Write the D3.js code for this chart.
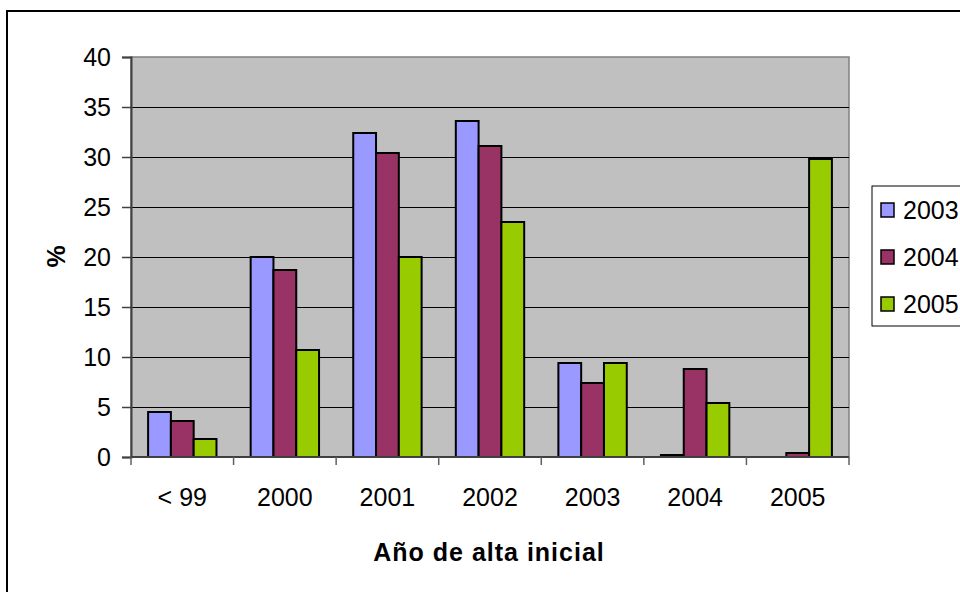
<!DOCTYPE html>
<html>
    <head>
        <meta charset="utf-8">
        <title>Año de alta inicial</title>
        <style>
body {
    margin: 0;
    background-color: white;
    font-family: 'Liberation Sans', Arial, sans-serif;
}

.tick-label {
    font-size: 25px;
    fill: #000;
}

.axis-title {
    font-size: 25px;
    font-weight: bold;
    letter-spacing: 1px;
    fill: #000;
}

.legend-label {
    font-size: 25px;
    fill: #000;
}
        </style>
        <script src="https://cdn.jsdelivr.net/npm/d3@7"></script>
    </head>
    <body>
        <script>
var width = 960,
    height = 592;

// data
var categories = ["< 99", "2000", "2001", "2002", "2003", "2004", "2005"];
var seriesNames = ["2003", "2004", "2005"];
var values2003 = [4.5, 20.0, 32.4, 33.6, 9.4, 0.2, 0];
var values2004 = [3.6, 18.7, 30.4, 31.1, 7.4, 8.8, 0.4];
var values2005 = [1.8, 10.7, 20.0, 23.5, 9.4, 5.4, 29.8];
var yTicks = [0, 5, 10, 15, 20, 25, 30, 35, 40];
var colors = ["#9999ff", "#993366", "#99cc00"];

var seriesValues = [values2003, values2004, values2005];

var plotLeft = 131,
    plotRight = 849,
    plotTop = 57,
    plotBottom = 457;

var svg = d3.select('body')
    .append('svg')
    .attr('width', width)
    .attr('height', height);

// outer chart border, runs off the right and bottom edge
svg.append("rect")
    .attr("x", 7)
    .attr("y", 11)
    .attr("width", 1000)
    .attr("height", 1000)
    .attr("fill", "white")
    .attr("stroke", "black")
    .attr("stroke-width", 2);

var x0 = d3.scaleBand()
    .domain(categories)
    .range([plotLeft, plotRight])
    .padding(0);

var x1 = d3.scaleBand()
    .domain(seriesNames)
    .range([0, x0.bandwidth()])
    .paddingInner(0)
    .paddingOuter(0.75);

var y = d3.scaleLinear()
    .domain([0, 40])
    .range([plotBottom, plotTop]);

// plot area
svg.append("rect")
    .attr("x", plotLeft)
    .attr("y", plotTop)
    .attr("width", plotRight - plotLeft)
    .attr("height", plotBottom - plotTop)
    .attr("fill", "#c0c0c0")
    .attr("stroke", "#808080")
    .attr("stroke-width", 1.5);

// gridlines
svg.append("g")
    .selectAll("line")
    .data(yTicks.filter(function (d) { return d > 0 && d < 40; }))
    .enter()
    .append("line")
    .attr("x1", plotLeft)
    .attr("x2", plotRight)
    .attr("y1", function (d) { return Math.round(y(d)) + 0.5; })
    .attr("y2", function (d) { return Math.round(y(d)) + 0.5; })
    .attr("stroke", "#000")
    .attr("stroke-width", 1);

// bars
var groups = svg.append("g")
    .selectAll("g")
    .data(categories)
    .enter()
    .append("g")
    .attr("transform", function (d) { return "translate(" + x0(d) + ",0)"; });

groups.selectAll("rect")
    .data(function (d, i) {
        return seriesNames.map(function (s, j) {
            return {series: s, value: seriesValues[j][i], color: colors[j]};
        });
    })
    .enter()
    .filter(function (d) { return d.value > 0; })
    .append("rect")
    .attr("x", function (d) { return x1(d.series); })
    .attr("y", function (d) { return y(d.value); })
    .attr("width", x1.bandwidth())
    .attr("height", function (d) { return y(0) - y(d.value); })
    .attr("fill", function (d) { return d.color; })
    .attr("stroke", "#000")
    .attr("stroke-width", 2);

// y axis
var yAxis = d3.axisLeft(y)
    .tickValues(yTicks)
    .tickSize(9)
    .tickPadding(11);

var yg = svg.append("g")
    .attr("transform", "translate(" + plotLeft + ",0)")
    .call(yAxis);

yg.select(".domain").attr("stroke", "#404040").attr("stroke-width", 2);
yg.selectAll(".tick line").attr("stroke", "#404040").attr("stroke-width", 1.5);
yg.selectAll(".tick text")
    .attr("class", "tick-label")
    .attr("font-family", null)
    .attr("font-size", null);

// x axis line and ticks at category boundaries
var xg = svg.append("g");

xg.append("line")
    .attr("x1", plotLeft)
    .attr("x2", plotRight)
    .attr("y1", plotBottom)
    .attr("y2", plotBottom)
    .attr("stroke", "#404040")
    .attr("stroke-width", 2);

var boundaries = categories.map(function (c) { return x0(c); }).concat([plotRight]);

xg.selectAll(".xtick")
    .data(boundaries)
    .enter()
    .append("line")
    .attr("class", "xtick")
    .attr("x1", function (d) { return d; })
    .attr("x2", function (d) { return d; })
    .attr("y1", plotBottom)
    .attr("y2", plotBottom + 8)
    .attr("stroke", "#606060")
    .attr("stroke-width", 1.5);

xg.selectAll(".xlabel")
    .data(categories)
    .enter()
    .append("text")
    .attr("class", "tick-label")
    .attr("x", function (d) { return x0(d) + x0.bandwidth() / 2; })
    .attr("y", 506)
    .attr("text-anchor", "middle")
    .text(function (d) { return d; });

// axis titles
svg.append("text")
    .attr("class", "axis-title")
    .attr("x", 489)
    .attr("y", 561)
    .attr("text-anchor", "middle")
    .text("Año de alta inicial");

svg.append("text")
    .attr("class", "axis-title")
    .attr("transform", "translate(65,256) rotate(-90)")
    .attr("text-anchor", "middle")
    .text("%");

// legend
var legend = svg.append("g");

legend.append("rect")
    .attr("x", 872)
    .attr("y", 186)
    .attr("width", 200)
    .attr("height", 140)
    .attr("fill", "white")
    .attr("stroke", "#000")
    .attr("stroke-width", 1);

var legendItems = legend.selectAll(".item")
    .data(seriesNames)
    .enter()
    .append("g")
    .attr("class", "item")
    .attr("transform", function (d, i) { return "translate(0," + (210 + i * 47) + ")"; });

legendItems.append("rect")
    .attr("x", 881)
    .attr("y", -7)
    .attr("width", 13)
    .attr("height", 14)
    .attr("fill", function (d, i) { return colors[i]; })
    .attr("stroke", "#000")
    .attr("stroke-width", 1.5);

legendItems.append("text")
    .attr("class", "legend-label")
    .attr("x", 903)
    .attr("y", 9)
    .text(function (d) { return d; });
        </script>
    </body>
</html>
